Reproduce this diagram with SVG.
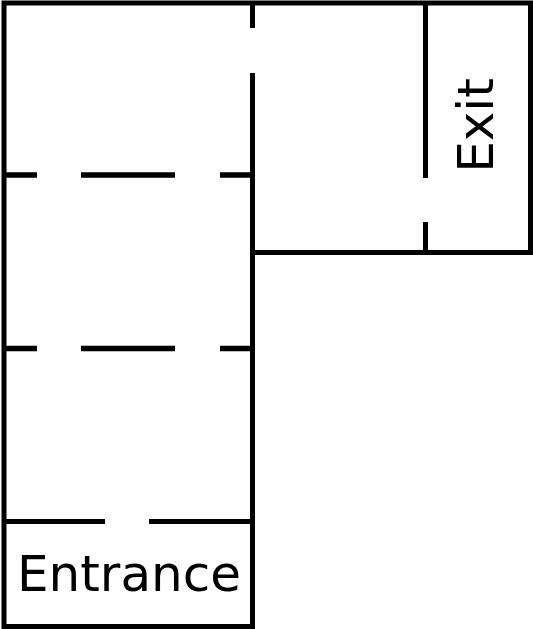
<svg xmlns="http://www.w3.org/2000/svg" width="533" height="629" viewBox="0 0 533 629">
<style>
.w{fill:none;stroke:#000;stroke-width:5}
.d{fill:none;stroke:#000;stroke-width:5.500}
.t{font-family:"DejaVu Sans",sans-serif;font-size:50px;fill:#000}
</style>
<rect width="533" height="629" fill="#fff"/>
<g id="walls">
<path class="w" d="M252.500 252.500H530.500V3H4V626.500H252.500V73M252.500 3V28"/>
<path class="w" d="M425.500 3V178M425.500 222V252.500"/>
<path class="d" d="M4 175H37M81 175H175M220 175H252.500"/>
<path class="d" d="M4 348.500H37M81 348.500H175M220 348.500H252.500"/>
<path class="w" d="M4 521.500H105M149 521.500H252.500"/>
</g>
<g id="entrance"><text class="t" x="129" y="590.500" text-anchor="middle">Entrance</text></g>
<g id="exit"><text class="t" transform="translate(493 125.500) rotate(-90)" text-anchor="middle">Exit</text></g>
</svg>
